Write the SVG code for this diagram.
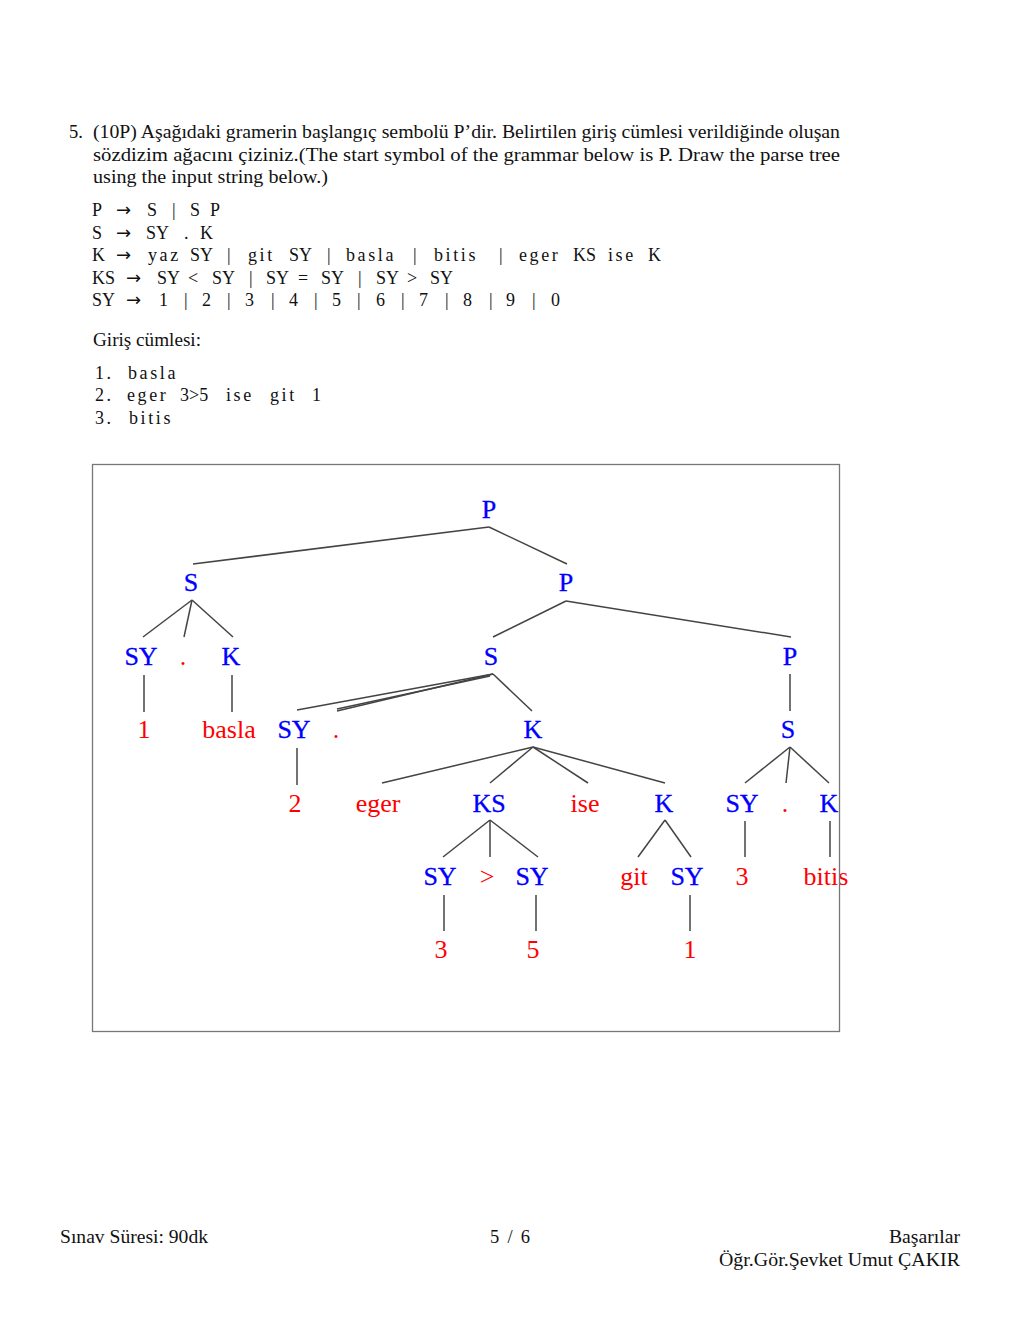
<svg xmlns="http://www.w3.org/2000/svg" width="1020" height="1320" viewBox="0 0 1020 1320">
<style>
.t{font-family:"Liberation Serif","DejaVu Serif",serif;font-size:18.5px;fill:#111}
.g{font-family:"Liberation Serif","DejaVu Serif",serif;font-size:18px;fill:#111}
.s{letter-spacing:2.6px}
.a{font-family:"DejaVu Sans",sans-serif;font-size:18px}
.n{font-family:"Liberation Serif","DejaVu Serif",serif;font-size:26px;fill:#0000ff;text-anchor:middle;stroke:#0000ff;stroke-width:0.3}
.l{font-family:"Liberation Serif","DejaVu Serif",serif;font-size:26px;fill:#ff0000;text-anchor:middle}
.c line{stroke:#444;stroke-width:1.5}
</style>
<rect x="0" y="0" width="1020" height="1320" fill="#ffffff"/>
<g id="question">
<text class="t" x="69" y="138">5.</text>
<text class="t" x="93" y="138" textLength="747" lengthAdjust="spacingAndGlyphs">(10P) Aşağıdaki gramerin başlangıç sembolü P’dir. Belirtilen giriş cümlesi verildiğinde oluşan</text>
<text class="t" x="93" y="161" textLength="747" lengthAdjust="spacingAndGlyphs">sözdizim ağacını çiziniz.(The start symbol of the grammar below is P. Draw the parse tree</text>
<text class="t" x="93" y="183" textLength="235" lengthAdjust="spacingAndGlyphs">using the input string below.)</text>
</g>
<g id="grammar" class="g">
<text y="216"><tspan x="92">P</tspan><tspan class="a" x="116">→</tspan><tspan x="147">S</tspan><tspan x="172">|</tspan><tspan x="190">S</tspan><tspan x="210">P</tspan></text>
<text y="239"><tspan x="92">S</tspan><tspan class="a" x="116">→</tspan><tspan x="146">SY</tspan><tspan x="184">.</tspan><tspan x="200">K</tspan></text>
<text y="261"><tspan x="92">K</tspan><tspan class="a" x="116">→</tspan><tspan class="s" x="148">yaz</tspan><tspan x="190">SY</tspan><tspan x="227">|</tspan><tspan class="s" x="248">git</tspan><tspan x="289">SY</tspan><tspan x="327">|</tspan><tspan class="s" x="346">basla</tspan><tspan x="413">|</tspan><tspan class="s" x="434">bitis</tspan><tspan x="499">|</tspan><tspan class="s" x="519">eger</tspan><tspan x="573">KS</tspan><tspan class="s" x="608">ise</tspan><tspan x="648">K</tspan></text>
<text y="284"><tspan x="92">KS</tspan><tspan class="a" x="126">→</tspan><tspan x="157">SY</tspan><tspan x="188">&lt;</tspan><tspan x="212">SY</tspan><tspan x="249">|</tspan><tspan x="266">SY</tspan><tspan x="298">=</tspan><tspan x="321">SY</tspan><tspan x="358">|</tspan><tspan x="376">SY</tspan><tspan x="407">&gt;</tspan><tspan x="430">SY</tspan></text>
<text y="306"><tspan x="92">SY</tspan><tspan class="a" x="126">→</tspan><tspan x="159">1</tspan><tspan x="184">|</tspan><tspan x="202">2</tspan><tspan x="227">|</tspan><tspan x="245">3</tspan><tspan x="271">|</tspan><tspan x="289">4</tspan><tspan x="314">|</tspan><tspan x="332">5</tspan><tspan x="357">|</tspan><tspan x="376">6</tspan><tspan x="401">|</tspan><tspan x="419">7</tspan><tspan x="445">|</tspan><tspan x="463">8</tspan><tspan x="489">|</tspan><tspan x="506">9</tspan><tspan x="532">|</tspan><tspan x="551">0</tspan></text>
</g>
<g id="input" class="g">
<text class="t" x="93" y="346" textLength="108" lengthAdjust="spacingAndGlyphs">Giriş cümlesi:</text>
<text y="379"><tspan class="s" x="95">1.</tspan><tspan class="s" x="128">basla</tspan></text>
<text y="401"><tspan class="s" x="95">2.</tspan><tspan class="s" x="127">eger</tspan><tspan x="180">3&gt;5</tspan><tspan class="s" x="226">ise</tspan><tspan class="s" x="270">git</tspan><tspan x="312">1</tspan></text>
<text y="424"><tspan class="s" x="95">3.</tspan><tspan class="s" x="129">bitis</tspan></text>
</g>
<g id="connectors" class="c">
<line x1="489" y1="527" x2="193" y2="564"/>
<line x1="489" y1="527" x2="567" y2="564"/>
<line x1="192" y1="600" x2="143" y2="637"/>
<line x1="192" y1="600" x2="184" y2="637"/>
<line x1="192" y1="600" x2="233" y2="637"/>
<line x1="566" y1="601" x2="493" y2="637"/>
<line x1="566" y1="601" x2="791" y2="637"/>
<line x1="144" y1="675" x2="144" y2="712"/>
<line x1="232" y1="675" x2="232" y2="712"/>
<line x1="493" y1="674" x2="297" y2="710"/>
<line x1="493" y1="674" x2="337" y2="711"/>
<line x1="490" y1="676" x2="337" y2="709"/>
<line x1="493" y1="674" x2="532" y2="711"/>
<line x1="790" y1="674" x2="790" y2="711"/>
<line x1="297" y1="748" x2="297" y2="785"/>
<line x1="533" y1="747" x2="382" y2="783"/>
<line x1="533" y1="747" x2="490" y2="783"/>
<line x1="533" y1="747" x2="588" y2="783"/>
<line x1="533" y1="747" x2="665" y2="783"/>
<line x1="790" y1="747" x2="745" y2="783"/>
<line x1="790" y1="747" x2="786" y2="783"/>
<line x1="790" y1="747" x2="829" y2="783"/>
<line x1="490" y1="820" x2="443" y2="857"/>
<line x1="490" y1="820" x2="490" y2="857"/>
<line x1="490" y1="820" x2="538" y2="857"/>
<line x1="665" y1="820" x2="638" y2="857"/>
<line x1="665" y1="820" x2="691" y2="857"/>
<line x1="745" y1="821" x2="745" y2="857"/>
<line x1="830" y1="821" x2="830" y2="857"/>
<line x1="444" y1="895" x2="444" y2="931"/>
<line x1="536" y1="895" x2="536" y2="931"/>
<line x1="690" y1="895" x2="690" y2="931"/>
</g>
<g id="tree">
<g id="n-P0"><text class="n" x="489" y="518">P</text></g>
<g id="n-S1"><text class="n" x="191" y="591">S</text></g>
<g id="n-P1"><text class="n" x="566" y="591">P</text></g>
<g id="n-SY1"><text class="n" x="141" y="665">SY</text></g>
<g id="n-dot1"><text class="l" x="183" y="665">.</text></g>
<g id="n-K1"><text class="n" x="231" y="665">K</text></g>
<g id="n-S2"><text class="n" x="491" y="665">S</text></g>
<g id="n-P2"><text class="n" x="790" y="665">P</text></g>
<g id="n-1a"><text class="l" x="144" y="738">1</text></g>
<g id="n-basla"><text class="l" x="229" y="738">basla</text></g>
<g id="n-SY2"><text class="n" x="294" y="738">SY</text></g>
<g id="n-dot2"><text class="l" x="336" y="738">.</text></g>
<g id="n-K2"><text class="n" x="533" y="738">K</text></g>
<g id="n-S3"><text class="n" x="788" y="738">S</text></g>
<g id="n-2"><text class="l" x="295" y="812">2</text></g>
<g id="n-eger"><text class="l" x="378" y="812">eger</text></g>
<g id="n-KS"><text class="n" x="489" y="812">KS</text></g>
<g id="n-ise"><text class="l" x="585" y="812">ise</text></g>
<g id="n-K3"><text class="n" x="664" y="812">K</text></g>
<g id="n-SY3"><text class="n" x="742" y="812">SY</text></g>
<g id="n-dot3"><text class="l" x="785" y="812">.</text></g>
<g id="n-K4"><text class="n" x="829" y="812">K</text></g>
<g id="n-SY4"><text class="n" x="440" y="885">SY</text></g>
<g id="n-gt"><text class="l" x="487" y="885">&gt;</text></g>
<g id="n-SY5"><text class="n" x="532" y="885">SY</text></g>
<g id="n-git"><text class="l" x="634" y="885">git</text></g>
<g id="n-SY6"><text class="n" x="687" y="885">SY</text></g>
<g id="n-3a"><text class="l" x="742" y="885">3</text></g>
<g id="n-bitis"><text class="l" x="826" y="885">bitis</text></g>
<g id="n-3b"><text class="l" x="441" y="958">3</text></g>
<g id="n-5"><text class="l" x="533" y="958">5</text></g>
<g id="n-1b"><text class="l" x="690" y="958">1</text></g>
</g>
<rect id="frame" x="92.5" y="464.5" width="747" height="567" fill="none" stroke="#777" stroke-width="1.3"/>
<g id="footer">
<text class="t" x="60" y="1243" textLength="148" lengthAdjust="spacingAndGlyphs">Sınav Süresi: 90dk</text>
<text class="t" x="490" y="1243" textLength="40">5 / 6</text>
<text class="t" x="889" y="1243" textLength="71" lengthAdjust="spacingAndGlyphs">Başarılar</text>
<text class="t" x="719" y="1266" textLength="241" lengthAdjust="spacingAndGlyphs">Öğr.Gör.Şevket Umut ÇAKIR</text>
</g>
</svg>
